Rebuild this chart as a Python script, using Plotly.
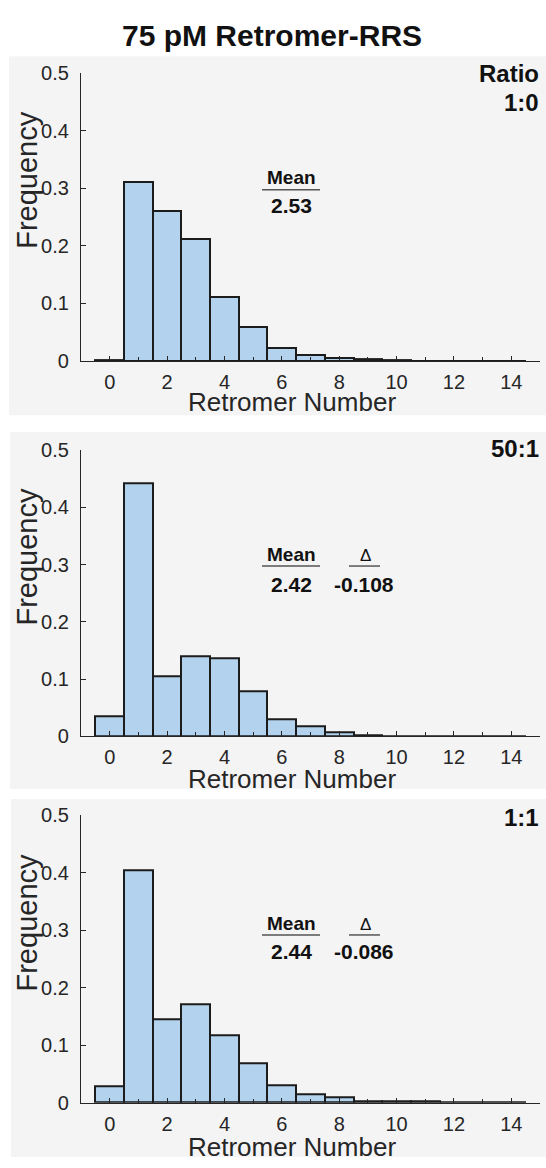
import plotly.graph_objects as go

W, H = 546, 1168

retromer_number = list(range(15))
freq_1_0 = [0.001, 0.311, 0.261, 0.212, 0.111, 0.0585, 0.0216, 0.0097, 0.0055, 0.0034,
            0.0012, 0.0006, 0.0006, 0.0003, 0.0003]
freq_50_1 = [0.0349, 0.443, 0.106, 0.140, 0.137, 0.0785, 0.0303, 0.0172, 0.0077, 0.0022,
             0.001, 0.0004, 0.0004, 0.001, 0.0003]
freq_1_1 = [0.0284, 0.404, 0.145, 0.171, 0.118, 0.068, 0.030, 0.0148, 0.0087, 0.0034,
            0.002, 0.002, 0.0005, 0.0005, 0.0004]

ratio_labels = [["Ratio", "1:0"], ["50:1"], ["1:1"]]
means = ["2.53", "2.42", "2.44"]
deltas = [None, "-0.108", "-0.086"]
x_ticks = [0, 2, 4, 6, 8, 10, 12, 14]
y_ticks = [0, 0.1, 0.2, 0.3, 0.4, 0.5]
y_tick_text = ["0", "0.1", "0.2", "0.3", "0.4", "0.5"]

series = [freq_1_0, freq_50_1, freq_1_1]

FONT = "Liberation Sans, Arial, Helvetica, sans-serif"
TXT = "#262626"
INK = "#111111"


def px(x):
    return x / W


def py(y):
    return 1 - y / H


# pixel layout of each panel
panels = [
    dict(bg=(46, 412, 9), ax=(63.3, 356.7), ratio=[64, 93], mean=169.7, line=182.3,
         val=198.5, ytitle=172, xtitle=398),
    dict(bg=(429, 793, 10), ax=(447.6, 739.3), ratio=[446], mean=554.3, line=565.7,
         val=584.3, ytitle=556, xtitle=783),
    dict(bg=(803, 1168, 11), ax=(819.7, 1112.7), ratio=[822], mean=930, line=941.7,
         val=959, ytitle=929, xtitle=1157.5),
]

fig = go.Figure()
shapes = []
annotations = []

annotations.append(dict(text="<b>75 pM Retromer-RRS</b>", x=px(272), y=py(25),
                        xref="paper", yref="paper", showarrow=False,
                        font=dict(family=FONT, size=30, color=INK),
                        xanchor="center", yanchor="middle"))

for i, (vals, p) in enumerate(zip(series, panels)):
    bg_t, bg_b, bg_l = p["bg"]
    ax_t, ax_b = p["ax"]
    n = "" if i == 0 else str(i + 1)
    fig.add_trace(go.Bar(
        x=retromer_number, y=vals, width=1,
        marker=dict(color="#b3d2ed", line=dict(color="#1c1c1c", width=2)),
        xaxis="x" + n, yaxis="y" + n, showlegend=False, hoverinfo="skip",
    ))
    fig.update_layout(**{
        "xaxis" + n: dict(
            domain=[px(81), px(540)], range=[-1, 15], anchor="y" + n,
            tickmode="array", tickvals=x_ticks, ticks="inside", ticklen=5,
            tickcolor=TXT, showline=True, linecolor=TXT, linewidth=1.2,
            showgrid=False, zeroline=False, ticklabelstandoff=3, fixedrange=True,
            tickfont=dict(family=FONT, size=20, color=TXT),
            minor=dict(dtick=1, tick0=-1, ticks="inside", ticklen=4, tickcolor=TXT,
                       showgrid=False),
        ),
        "yaxis" + n: dict(
            domain=[py(ax_b), py(ax_t)], range=[0, 0.5], anchor="x" + n,
            tickmode="array", tickvals=y_ticks, ticktext=y_tick_text,
            ticks="inside", ticklen=5, tickcolor=TXT, showline=True,
            linecolor=TXT, linewidth=1.2, showgrid=False, zeroline=False,
            ticklabelstandoff=7, fixedrange=True,
            tickfont=dict(family=FONT, size=20, color=TXT),
        ),
    })
    shapes.append(dict(type="rect", xref="paper", yref="paper",
                       x0=px(bg_l), x1=1, y0=py(bg_b), y1=py(bg_t),
                       fillcolor="#f4f4f4", line=dict(width=0), layer="below"))
    # ratio label(s)
    for txt, yc in zip(ratio_labels[i], p["ratio"]):
        annotations.append(dict(text="<b>" + txt + "</b>", x=px(541), y=py(yc),
                                xref="paper", yref="paper", showarrow=False,
                                xanchor="right", yanchor="middle", align="right",
                                font=dict(family=FONT, size=24, color=INK)))
    # axis titles
    annotations.append(dict(text="Frequency", x=px(27), y=py(p["ytitle"]), xref="paper",
                            yref="paper", showarrow=False, textangle=-90,
                            xanchor="center", yanchor="middle",
                            font=dict(family=FONT, size=29, color=TXT)))
    annotations.append(dict(text="Retromer Number", x=px(292), y=py(p["xtitle"]),
                            xref="paper", yref="paper", showarrow=False,
                            xanchor="center", yanchor="middle",
                            font=dict(family=FONT, size=26, color=TXT)))
    # mean block
    annotations.append(dict(text="<b>Mean</b>", x=px(291), y=py(p["mean"]), xref="paper",
                            yref="paper", showarrow=False, xanchor="center",
                            yanchor="middle", font=dict(family=FONT, size=19, color=INK)))
    annotations.append(dict(text="<b>" + means[i] + "</b>", x=px(291), y=py(p["val"]),
                            xref="paper", yref="paper", showarrow=False, xanchor="center",
                            yanchor="middle", font=dict(family=FONT, size=21, color=INK)))
    shapes.append(dict(type="line", xref="paper", yref="paper", x0=px(262), x1=px(320),
                       y0=py(p["line"]), y1=py(p["line"]),
                       line=dict(color="#555555", width=1.5)))
    if deltas[i] is not None:
        annotations.append(dict(text="Δ", x=px(365), y=py(p["mean"] + 1), xref="paper",
                                yref="paper", showarrow=False, xanchor="center",
                                yanchor="middle",
                                font=dict(family=FONT, size=17, color=INK)))
        annotations.append(dict(text="<b>" + deltas[i] + "</b>", x=px(364), y=py(p["val"]),
                                xref="paper", yref="paper", showarrow=False,
                                xanchor="center", yanchor="middle",
                                font=dict(family=FONT, size=21, color=INK)))
        shapes.append(dict(type="line", xref="paper", yref="paper", x0=px(349), x1=px(380),
                           y0=py(p["line"]), y1=py(p["line"]),
                           line=dict(color="#555555", width=1.5)))

fig.update_layout(
    width=W, height=H, margin=dict(l=0, r=0, t=0, b=0),
    paper_bgcolor="white", plot_bgcolor="rgba(0,0,0,0)",
    bargap=0, shapes=shapes, annotations=annotations,
    font=dict(family=FONT), hovermode=False,
)

fig.write_html(
    "out.html",
    config={"displayModeBar": False},
    post_script="document.body.style.margin='0';document.body.style.overflow='hidden';",
)
